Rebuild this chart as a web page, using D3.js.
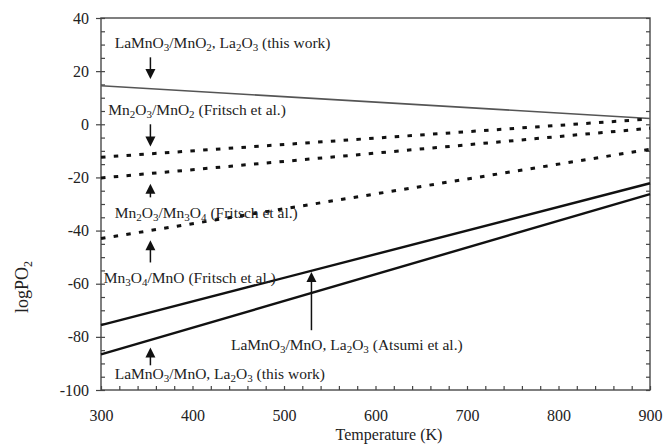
<!DOCTYPE html>
<html>
<head>
<meta charset="utf-8">
<script src="https://cdn.jsdelivr.net/npm/d3@7"></script>
<style>
  body { margin: 0; background: #fff; }
</style>
</head>
<body>
<svg width="666" height="445"></svg>
<script>
// data: straight lines, value at 300 K and at 900 K
var temps = [300, 900];
var laMnO2ThisWork = [14.5, 2.2];
var mn2o3MnO2 = [-12.4, 2.0];
var mn2o3Mn3o4 = [-20.2, -1.5];
var mn3o4MnO = [-43.0, -9.4];
var laMnOAtsumi = [-75.6, -22.2];
var laMnOThisWork = [-86.6, -26.3];

var xTicks = [300, 400, 500, 600, 700, 800, 900];
var yTicks = [40, 20, 0, -20, -40, -60, -80, -100];

// annotations: label pieces [text, isSubscript], position in data units
var labels = [
  { x: 315, y: 30.5, parts: [["LaMnO",0],["3",1],["/MnO",0],["2",1],[", La",0],["2",1],["O",0],["3",1],[" (this work)",0]] },
  { x: 308, y: 5.3, parts: [["Mn",0],["2",1],["O",0],["3",1],["/MnO",0],["2",1],[" (Fritsch et al.)",0]] },
  { x: 315, y: -33.5, parts: [["Mn",0],["2",1],["O",0],["3",1],["/Mn",0],["3",1],["O",0],["4",1],[" (Fritsch et al.)",0]] },
  { x: 303, y: -58, parts: [["Mn",0],["3",1],["O",0],["4",1],["/MnO (Fritsch et al.)",0]] },
  { x: 442, y: -83.2, parts: [["LaMnO",0],["3",1],["/MnO, La",0],["2",1],["O",0],["3",1],[" (Atsumi et al.)",0]] },
  { x: 315, y: -94, parts: [["LaMnO",0],["3",1],["/MnO, La",0],["2",1],["O",0],["3",1],[" (this work)",0]] }
];

// arrows: x, tail y, tip y (data units)
var arrows = [
  { x: 354, from: 25.2, to: 17.0 },
  { x: 354, from: 0, to: -8.4 },
  { x: 354, from: -27.5, to: -22.4 },
  { x: 354, from: -52, to: -43.6 },
  { x: 530, from: -77.5, to: -55.6 },
  { x: 354, from: -90.7, to: -84.0 }
];

var serif = "'Liberation Serif', 'Times New Roman', Times, 'DejaVu Serif', serif";

var svg = d3.select("svg");
var margin = { left: 101, right: 16, top: 18, bottom: 55 },
    width = 666 - margin.left - margin.right,
    height = 445 - margin.top - margin.bottom;

var g = svg.append("g").attr("transform", "translate(" + margin.left + "," + margin.top + ")");

var x = d3.scaleLinear().domain([300, 900]).range([0, width]);
var y = d3.scaleLinear().domain([-100, 40]).range([height, 0]);

//////////// AXES ////////////

// frame
g.append("rect")
  .attr("width", width).attr("height", height)
  .attr("fill", "none").attr("stroke", "#555").attr("stroke-width", 1.5);

// left minor ticks (inward)
g.append("g")
  .call(d3.axisLeft(y).tickValues(d3.range(-100, 41, 5)).tickSize(-4).tickFormat(""))
  .call(function(s) { s.select(".domain").remove(); });
// left major ticks (outward) + labels
g.append("g")
  .call(d3.axisLeft(y).tickValues(yTicks).tickSize(5).tickPadding(7).tickFormat(function(d) { return d < 0 ? "-" + Math.abs(d) : d; }))
  .call(function(s) {
    s.select(".domain").remove();
    s.selectAll("text").style("font-size", "16px");
  });

// right minor ticks
g.append("g")
  .attr("transform", "translate(" + width + ",0)")
  .call(d3.axisRight(y).tickValues(d3.range(-100, 41, 5)).tickSize(-4).tickFormat(""))
  .call(function(s) { s.select(".domain").remove(); });

// bottom ticks every 20 K (inward)
g.append("g")
  .attr("transform", "translate(0," + height + ")")
  .call(d3.axisBottom(x).tickValues(d3.range(300, 901, 20)).tickSize(-4).tickFormat(""))
  .call(function(s) { s.select(".domain").remove(); });
// bottom labels
g.append("g")
  .attr("transform", "translate(0," + height + ")")
  .call(d3.axisBottom(x).tickValues(xTicks).tickSize(0).tickPadding(20).tickFormat(d3.format("d")))
  .call(function(s) {
    s.select(".domain").remove();
    s.selectAll("text").style("font-size", "16px");
  });

g.selectAll(".tick line").attr("stroke", "#444").attr("stroke-width", 1.2);

// axis titles
svg.append("text")
  .attr("x", 389).attr("y", 440)
  .attr("text-anchor", "middle")
  .style("font-size", "16px")
  .text("Temperature (K)");

var yl = svg.append("text")
  .attr("transform", "translate(28,287) rotate(-90)")
  .attr("text-anchor", "middle")
  .style("font-size", "18px");
yl.append("tspan").text("logPO");
yl.append("tspan").attr("dy", 4).style("font-size", "12px").text("2");

//////////// LINES ////////////

var series = [
  { v: laMnO2ThisWork, w: 1.6, c: "#555", dash: null },
  { v: mn2o3MnO2, w: 3, c: "#111", dash: "4.5,8.3" },
  { v: mn2o3Mn3o4, w: 3, c: "#111", dash: "4.5,8.3" },
  { v: mn3o4MnO, w: 3, c: "#111", dash: "4.5,8.3" },
  { v: laMnOAtsumi, w: 2.4, c: "#111", dash: null },
  { v: laMnOThisWork, w: 2.4, c: "#111", dash: null }
];

var line = d3.line()
  .x(function(d) { return x(d[0]); })
  .y(function(d) { return y(d[1]); });

g.selectAll(".series")
  .data(series)
  .enter().append("path")
  .attr("class", "series")
  .attr("fill", "none")
  .attr("stroke", function(d) { return d.c; })
  .attr("stroke-width", function(d) { return d.w; })
  .attr("stroke-dasharray", function(d) { return d.dash; })
  .attr("d", function(d) { return line(temps.map(function(t, i) { return [t, d.v[i]]; })); });

//////////// ANNOTATIONS ////////////

var lab = g.selectAll(".lab")
  .data(labels)
  .enter().append("text")
  .attr("class", "lab")
  .attr("x", function(d) { return x(d.x); })
  .attr("y", function(d) { return y(d.y) + 5; })
  .style("font-size", "15.5px");

lab.each(function(d) {
  var t = d3.select(this), sub = false;
  d.parts.forEach(function(p) {
    var ts = t.append("tspan").text(p[0]);
    if (p[1] && !sub) { ts.attr("dy", 2.5).style("font-size", "11px"); sub = true; }
    else if (p[1]) { ts.style("font-size", "11px"); }
    else if (sub) { ts.attr("dy", -2.5); sub = false; }
  });
});

arrows.forEach(function(a) {
  var ax = x(a.x), y0 = y(a.from), y1 = y(a.to);
  var dir = y1 > y0 ? 1 : -1;
  g.append("line")
    .attr("x1", ax).attr("x2", ax)
    .attr("y1", y0).attr("y2", y1 - dir * 8)
    .attr("stroke", "#111").attr("stroke-width", 1.5);
  g.append("path")
    .attr("d", "M" + (ax - 5) + "," + (y1 - dir * 10) + "L" + (ax + 5) + "," + (y1 - dir * 10) + "L" + ax + "," + y1 + "Z")
    .attr("fill", "#111");
});

// serif face and dark grey ink for every text
svg.selectAll("text")
  .attr("font-family", null)
  .style("font-family", serif)
  .attr("fill", "#222");
</script>
</body>
</html>
